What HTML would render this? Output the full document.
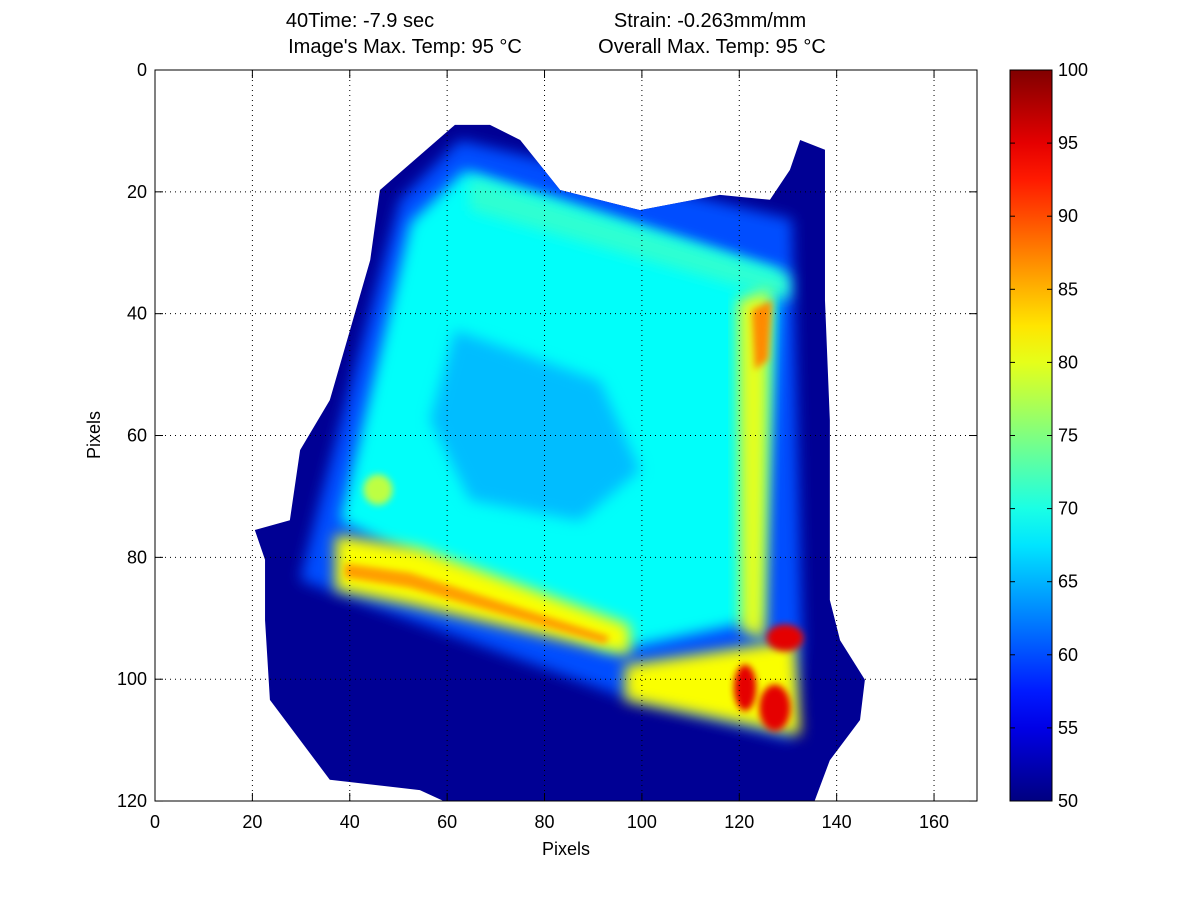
<!DOCTYPE html>
<html><head><meta charset="utf-8"><style>
html,body{margin:0;padding:0;background:#fff;}
svg{display:block;font-family:"Liberation Sans",Arial,sans-serif;}
</style></head><body>
<svg id="chart" width="1200" height="900" viewBox="0 0 1200 900" xmlns="http://www.w3.org/2000/svg">
<defs>
<filter id="blur5" x="-30%" y="-30%" width="160%" height="160%"><feGaussianBlur stdDeviation="7"/></filter>
<filter id="blur3" x="-30%" y="-30%" width="160%" height="160%"><feGaussianBlur stdDeviation="3.5"/></filter>
<clipPath id="plotclip"><rect x="155" y="70" width="822" height="731"/></clipPath>
<clipPath id="blobclip"><polygon id="blobclippoly" points=""/></clipPath>
<linearGradient id="cbgrad" x1="0" y1="1" x2="0" y2="0"></linearGradient>
</defs>
<rect x="155" y="70" width="822" height="731" fill="#fff"/>
<g clip-path="url(#plotclip)"><g id="heat"></g></g>
<g id="grid"></g>
<rect x="155" y="70" width="822" height="731" fill="none" stroke="#000" stroke-width="1"/>
<g id="ticks" font-size="18" fill="#000"></g>
<text x="360" y="27" font-size="20" text-anchor="middle">40Time: -7.9 sec</text>
<text x="710" y="27" font-size="20" text-anchor="middle">Strain: -0.263mm/mm</text>
<text x="405" y="53" font-size="20" text-anchor="middle">Image's Max. Temp: 95 °C</text>
<text x="712" y="53" font-size="20" text-anchor="middle">Overall Max. Temp: 95 °C</text>
<text x="566" y="855" font-size="18" text-anchor="middle">Pixels</text>
<text x="0" y="0" font-size="18" text-anchor="middle" transform="translate(100,435) rotate(-90)">Pixels</text>
<rect x="1010" y="70" width="42" height="731" fill="url(#cbgrad)" stroke="#000"/>
<g id="cbticks" font-size="18"></g>
</svg>
<script>
const xTicks=[0,20,40,60,80,100,120,140,160];
const yTicks=[0,20,40,60,80,100,120];
const cbTicks=[50,55,60,65,70,75,80,85,90,95,100];
const cbMin=50, cbMax=100;
// thermal regions: temperatures and shapes in image-pixel units
const regionTemps=[51,60,69,65.5,71,80,87,81,86,81,78,95,95,95];
const regionBlur=[0,1,1,1,1,1,2,1,2,1,2,2,2,2];
const regionShapes=[
 [[61.6,9],[46.2,19.7],[44.2,31.2],[35.9,54.2],[29.8,62.4],[27.7,73.9],[20.5,75.5],[22.6,80.4],[22.6,90.3],[23.6,103.4],[29.8,110],[35.9,116.5],[54.4,118.2],[62,121],[135,121],[138.6,113.3],[144.8,106.7],[145.8,100.1],[140.7,93.6],[138.6,87],[138.6,57.5],[137.6,37.8],[137.6,13.1],[132.5,11.5],[130.4,16.4],[126.3,21.3],[116,20.5],[99.6,23],[83.2,19.7],[75,11.5],[68.8,9]],
 [[62.6,11.5],[130.8,24.5],[132.9,93.6],[130.8,110],[98,103.4],[29.8,83.7],[33.9,70.6],[50.3,21.3]],
 [[63.6,16.5],[128.4,33],[124.3,90.3],[93.4,95.4],[38,74],[52.5,25]],
 [[61.6,42.7],[91.4,51],[99.6,65.7],[87.3,74],[64.7,70.6],[56.5,57.5]],
 [[64.7,17.5],[130.4,33.6],[130.4,37.8],[64.7,23]],
 [[119.7,37.8],[126.3,36.1],[125.3,93.6],[120.3,91.9]],
 [[122.6,39.4],[126.7,37.8],[125.9,47.6],[123.2,49.2]],
 [[37,76.3],[54.4,78.5],[97.5,91.1],[97.5,96.1],[52.3,87.8],[37,85.4]],
 [[39,81],[52.3,82.5],[93.4,93],[92.4,94.2],[52.3,85],[39,83.3]],
 [[96.5,97.7],[131.4,93.6],[132.5,109.2],[96.5,103.4]],
 {cx:45.8,cy:68.9,rx:3,ry:2.5},
 {cx:121.2,cy:101.4,rx:2.3,ry:3.8},
 {cx:127.3,cy:104.7,rx:3.2,ry:3.8},
 {cx:129.4,cy:93.2,rx:3.8,ry:2.2}
];
const NS="http://www.w3.org/2000/svg";
const xS=v=>155+v*4.869;
const yS=v=>70+v*6.092;
function jet(T){const t=Math.max(0,Math.min(1,(T-cbMin)/(cbMax-cbMin)));
 const c=x=>Math.round(255*Math.max(0,Math.min(1,x)));
 return `rgb(${c(1.5-Math.abs(4*t-3))},${c(1.5-Math.abs(4*t-2))},${c(1.5-Math.abs(4*t-1))})`;}
const heat=document.getElementById('heat');
document.getElementById('blobclippoly').setAttribute('points',regionShapes[0].map(p=>xS(p[0])+','+yS(p[1])).join(' '));
const warm=document.createElementNS(NS,'g');
warm.setAttribute('clip-path','url(#blobclip)');
regionShapes.forEach((s,i)=>{let el;
 if(Array.isArray(s)){el=document.createElementNS(NS,'polygon');el.setAttribute('points',s.map(p=>xS(p[0])+','+yS(p[1])).join(' '));}
 else{el=document.createElementNS(NS,'ellipse');el.setAttribute('cx',xS(s.cx));el.setAttribute('cy',yS(s.cy));el.setAttribute('rx',s.rx*4.869);el.setAttribute('ry',s.ry*6.092);}
 el.setAttribute('fill',jet(regionTemps[i]));
 if(regionBlur[i]===1)el.setAttribute('filter','url(#blur5)');
 if(regionBlur[i]===2)el.setAttribute('filter','url(#blur3)');
 
 
 if(i===0)heat.appendChild(el);else warm.appendChild(el);});
heat.appendChild(warm);
const grid=document.getElementById('grid'),ticks=document.getElementById('ticks');
function line(x1,y1,x2,y2,dash){const l=document.createElementNS(NS,'line');l.setAttribute('x1',x1);l.setAttribute('y1',y1);l.setAttribute('x2',x2);l.setAttribute('y2',y2);l.setAttribute('stroke','#000');l.setAttribute('stroke-width','1');if(dash)l.setAttribute('stroke-dasharray','1,4');return l;}
function txt(x,y,s,a){const t=document.createElementNS(NS,'text');t.setAttribute('x',x);t.setAttribute('y',y);t.setAttribute('text-anchor',a);t.textContent=s;return t;}
xTicks.forEach(v=>{const X=xS(v);
 const g=line(X,70,X,801,true);grid.appendChild(g);
 grid.appendChild(line(X,801,X,793));grid.appendChild(line(X,70,X,78));
 const t=txt(X,828,String(v),'middle');ticks.appendChild(t);});
yTicks.forEach(v=>{const Y=yS(v);
 const g=line(155,Y,977,Y,true);grid.appendChild(g);
 grid.appendChild(line(155,Y,163,Y));grid.appendChild(line(977,Y,969,Y));
 const t=txt(147,Y+6,String(v),'end');ticks.appendChild(t);});
const grad=document.getElementById('cbgrad');
for(let i=0;i<=20;i++){const s=document.createElementNS(NS,'stop');s.setAttribute('offset',(i/20));s.setAttribute('stop-color',jet(cbMin+(cbMax-cbMin)*i/20));grad.appendChild(s);}
const cb=document.getElementById('cbticks');
cbTicks.forEach(v=>{const Y=801-(v-cbMin)/(cbMax-cbMin)*731;
 cb.appendChild(line(1010,Y,1015,Y));cb.appendChild(line(1052,Y,1047,Y));
 const t=txt(1058,Y+6,String(v),'start');cb.appendChild(t);});
</script>
</body></html>
